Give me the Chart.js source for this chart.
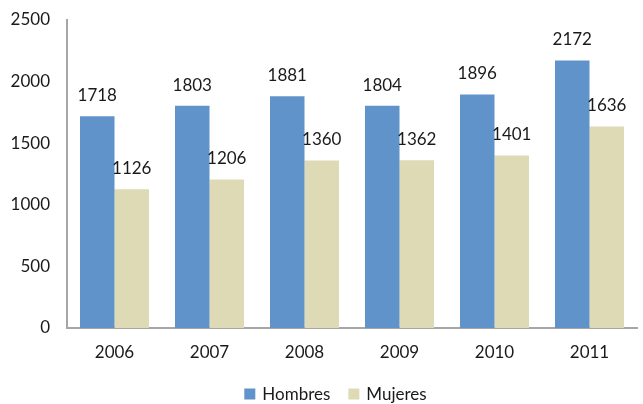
<!DOCTYPE html>
<html>
<head>
<meta charset="utf-8">
<script src="https://cdn.jsdelivr.net/npm/chart.js@4.4.0/dist/chart.umd.min.js"></script>
<style>
  html, body { margin: 0; padding: 0; background: #fff; }
  #wrap { width: 643px; height: 404px; position: relative; }
</style>
</head>
<body>
<div id="wrap"><canvas id="chart"></canvas></div>
<script>
// datos
const years = ['2006', '2007', '2008', '2009', '2010', '2011'];
const hombres = [1718, 1803, 1881, 1804, 1896, 2172];
const mujeres = [1126, 1206, 1360, 1362, 1401, 1636];
const yTicks = [0, 500, 1000, 1500, 2000, 2500];

const colorH = '#5F93C9';
const colorM = '#DDDAB5';
const fontName = 'Lato';
const textColor = '#1a1a1a';

// etiquetas encima de las barras
const valueLabels = {
  id: 'valueLabels',
  afterDatasetsDraw(chart) {
    const ctx = chart.ctx;
    ctx.save();
    ctx.font = '17px ' + fontName;
    ctx.fillStyle = textColor;
    ctx.textAlign = 'center';
    ctx.textBaseline = 'bottom';
    chart.data.datasets.forEach((ds, i) => {
      const meta = chart.getDatasetMeta(i);
      meta.data.forEach((bar, j) => {
        ctx.fillText(String(ds.data[j]), bar.x, bar.y - 12);
      });
    });
    ctx.restore();
  }
};

// leyenda dibujada a mano, abajo
const bottomLegend = {
  id: 'bottomLegend',
  afterDraw(chart) {
    const ctx = chart.ctx;
    ctx.save();
    ctx.font = '17px ' + fontName;
    ctx.textBaseline = 'middle';
    ctx.textAlign = 'left';
    const box = 11, gapBox = 7, gapItem = 18;
    const items = chart.data.datasets.map(ds => ({ text: ds.label, color: ds.backgroundColor, w: ctx.measureText(ds.label).width }));
    let total = 0;
    items.forEach((it, i) => { total += box + gapBox + it.w + (i ? gapItem : 0); });
    let x = (chart.width - total) / 2 + 14;
    const y = 395;
    items.forEach(it => {
      ctx.fillStyle = it.color;
      ctx.fillRect(x, y - box / 2 - 1, box, box);
      ctx.fillStyle = textColor;
      ctx.fillText(it.text, x + box + gapBox, y);
      x += box + gapBox + it.w + gapItem;
    });
    ctx.restore();
  }
};

new Chart(document.getElementById('chart'), {
  type: 'bar',
  data: {
    labels: years,
    datasets: [
      { label: 'Hombres', data: hombres, backgroundColor: colorH },
      { label: 'Mujeres', data: mujeres, backgroundColor: colorM }
    ]
  },
  options: {
    responsive: true,
    maintainAspectRatio: false,
    animation: false,
    layout: { padding: { top: 20, right: 6, left: 0, bottom: 34 } },
    datasets: { bar: { categoryPercentage: 0.726, barPercentage: 1.0 } },
    plugins: {
      legend: { display: false },
      tooltip: { enabled: false }
    },
    scales: {
      x: {
        grid: { display: false, drawTicks: false },
        border: { color: '#A6A6A6', width: 2 },
        ticks: { color: textColor, font: { family: fontName, size: 17 }, padding: 14 },
        afterFit(scale) { scale.height = 42; }
      },
      y: {
        min: 0,
        max: 2500,
        grid: { display: false, drawTicks: false },
        border: { color: '#A6A6A6', width: 2 },
        afterBuildTicks(scale) { scale.ticks = yTicks.map(v => ({ value: v })); },
        ticks: {
          color: textColor,
          font: { family: fontName, size: 17 },
          padding: 17,
          callback: (v) => String(v)
        },
        afterFit(scale) {
          scale.width = 67;
          scale.paddingTop = 0;
          scale.paddingBottom = 0;
        }
      }
    }
  },
  plugins: [valueLabels, bottomLegend]
});
</script>
</body>
</html>
